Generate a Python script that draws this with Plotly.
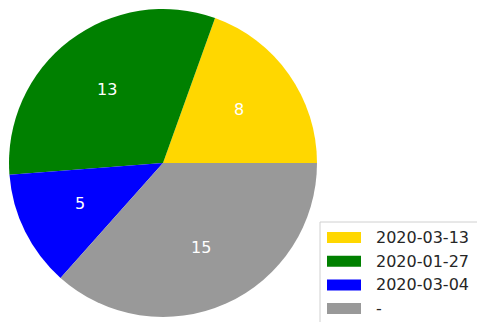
import math
import plotly.graph_objects as go

labels = ["2020-03-13", "2020-01-27", "2020-03-04", "-"]
values = [8, 13, 5, 15]
colors = ["#FFD700", "#008000", "#0000FF", "#999999"]

W, H = 477, 322
cx, cy, r = 163, 163, 154  # pie centre / radius in pixels

total = sum(values)
# first wedge starts at 3 o'clock and wedges run counter-clockwise
first_span = values[0] / total * 360

fig = go.Figure(go.Pie(
    labels=labels,
    values=values,
    sort=False,
    direction="counterclockwise",
    rotation=90 - first_span,
    marker=dict(colors=colors, line=dict(width=0)),
    textinfo="none",
    hoverinfo="label+value",
    showlegend=False,
    domain=dict(x=[(cx - r) / W, (cx + r) / W],
                y=[(H - cy - r) / H, (H - cy + r) / H]),
))

# value labels at 60% of the radius, at each wedge's mid-angle
annotations = []
start = 0.0
for v in values:
    mid = math.radians((start + v / 2) / total * 360)
    start += v
    px = cx + 0.6 * r * math.cos(mid)
    py = cy - 0.6 * r * math.sin(mid)
    annotations.append(dict(
        x=px / W, y=1 - py / H, xref="paper", yref="paper",
        text=str(v), showarrow=False,
        font=dict(family="DejaVu Sans", size=16, color="white"),
        xanchor="center", yanchor="middle",
    ))

# legend box with wide colour swatches
shapes = [dict(type="rect", xref="paper", yref="paper",
               x0=320 / W, x1=490 / W, y0=1 - 330 / H, y1=1 - 222 / H,
               line=dict(color="#d0d0d0", width=1), fillcolor="white", layer="below")]
for i, (lab, col) in enumerate(zip(labels, colors)):
    yc = 237.5 + i * 23.7
    shapes.append(dict(type="rect", xref="paper", yref="paper",
                       x0=327 / W, x1=361 / W,
                       y0=1 - (yc + 5.5) / H, y1=1 - (yc - 5.5) / H,
                       line=dict(width=0), fillcolor=col))
    annotations.append(dict(
        x=374 / W, y=1 - yc / H, xref="paper", yref="paper",
        text=lab, showarrow=False, xanchor="left", yanchor="middle",
        font=dict(family="DejaVu Sans", size=16, color="#262626"),
    ))

fig.update_layout(
    width=W, height=H,
    margin=dict(l=0, r=0, t=0, b=0),
    paper_bgcolor="white",
    plot_bgcolor="white",
    annotations=annotations,
    shapes=shapes,
)

fig.write_html("out.html")
